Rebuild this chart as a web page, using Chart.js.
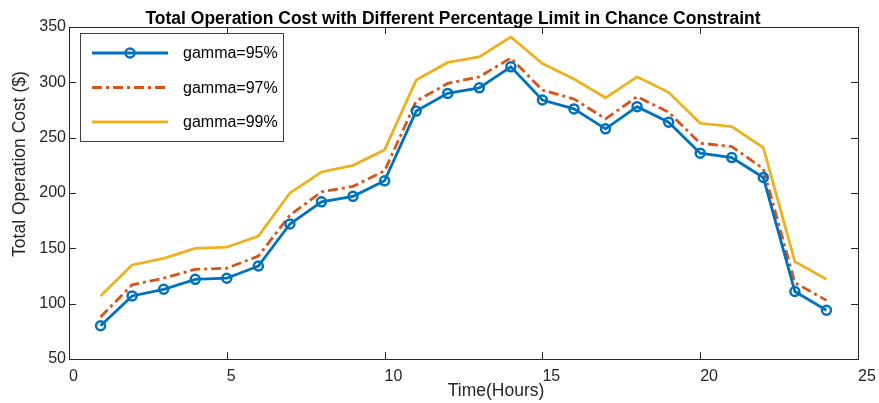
<!DOCTYPE html>
<html>
<head>
<meta charset="utf-8">
<script src="https://cdn.jsdelivr.net/npm/chart.js@4/dist/chart.umd.min.js"></script>
<style>
  html, body { margin: 0; padding: 0; background: #fff; }
  #wrap { width: 879px; height: 403px; }
</style>
</head>
<body>
<div id="wrap"><canvas id="costChart" width="879" height="403"></canvas></div>
<script>
// hours 1..24
const hours = [1, 2, 3, 4, 5, 6, 7, 8, 9, 10, 11, 12, 13, 14, 15, 16, 17, 18, 19, 20, 21, 22, 23, 24];
const gamma95 = [80, 107, 113, 122, 123, 134, 172, 192, 197, 211, 274, 290, 295, 314, 284, 276, 258, 278, 264, 236, 232, 214, 111, 94];
const gamma97 = [88, 117, 123, 131, 132, 143, 180, 201, 206, 220, 283, 299, 305, 322, 293, 285, 267, 287, 273, 245, 242, 222, 119, 103];
const gamma99 = [107, 135, 141, 150, 151, 161, 200, 219, 225, 239, 302, 318, 323, 341, 317, 303, 286, 305, 291, 263, 260, 241, 138, 122];
const xTicks = [0, 5, 10, 15, 20, 25];
const yTicks = [50, 100, 150, 200, 250, 300, 350];

const FONT = 'Arial, "Liberation Sans", sans-serif';

function toPoints(values) {
    return hours.map((h, i) => ({ x: h, y: values[i] }));
}

// matlab-ish frame: box, inward ticks, title, axis labels, legend
const frameBox = {
    id: 'frameBox',
    afterDraw(chart) {
        const ctx = chart.ctx;
        const a = chart.chartArea;
        const xs = chart.scales.x;
        const ys = chart.scales.y;
        ctx.save();
        ctx.strokeStyle = '#262626';
        ctx.lineWidth = 1;
        ctx.strokeRect(a.left + 0.5, a.top + 0.5, a.right - a.left, a.bottom - a.top);
        const tl = 7;
        xTicks.forEach(v => {
            const px = Math.round(xs.getPixelForValue(v)) + 0.5;
            ctx.beginPath();
            ctx.moveTo(px, a.bottom); ctx.lineTo(px, a.bottom - tl);
            ctx.moveTo(px, a.top); ctx.lineTo(px, a.top + tl);
            ctx.stroke();
        });
        yTicks.forEach(v => {
            const py = Math.round(ys.getPixelForValue(v)) + 0.5;
            ctx.beginPath();
            ctx.moveTo(a.left, py); ctx.lineTo(a.left + tl, py);
            ctx.moveTo(a.right, py); ctx.lineTo(a.right - tl, py);
            ctx.stroke();
        });

        // title
        ctx.fillStyle = '#000';
        ctx.font = 'bold 17.5px ' + FONT;
        ctx.textAlign = 'center';
        ctx.textBaseline = 'alphabetic';
        ctx.fillText('Total Operation Cost with Different Percentage Limit in Chance Constraint', 453, 24);

        // axis titles
        ctx.fillStyle = '#262626';
        ctx.font = '17.5px ' + FONT;
        ctx.textBaseline = 'middle';
        ctx.fillText('Time(Hours)', 496, 391);
        ctx.save();
        ctx.translate(20, 164);
        ctx.rotate(-Math.PI / 2);
        ctx.fillText('Total Operation Cost ($)', 0, 0);
        ctx.restore();

        // legend
        const lx = 80, ly = 33, lw = 203, lh = 108;
        ctx.fillStyle = '#fff';
        ctx.fillRect(lx, ly, lw, lh);
        ctx.strokeStyle = '#404040';
        ctx.strokeRect(lx + 0.5, ly + 0.5, lw, lh);
        chart.data.datasets.forEach((ds, i) => {
            const yy = ly + 20 + i * 34.5;
            ctx.save();
            ctx.strokeStyle = ds.borderColor;
            ctx.lineWidth = ds.borderWidth;
            ctx.setLineDash(ds.borderDash || []);
            ctx.beginPath();
            ctx.moveTo(lx + 12, yy); ctx.lineTo(lx + 88, yy);
            ctx.stroke();
            ctx.setLineDash([]);
            if (ds.pointRadius > 0) {
                ctx.lineWidth = ds.pointBorderWidth;
                ctx.beginPath();
                ctx.arc(lx + 50, yy, ds.pointRadius, 0, Math.PI * 2);
                ctx.stroke();
            }
            ctx.restore();
            ctx.fillStyle = '#000';
            ctx.font = '16px ' + FONT;
            ctx.textAlign = 'left';
            ctx.textBaseline = 'middle';
            ctx.fillText(ds.label, lx + 103, yy + 1);
        });
        ctx.restore();
    }
};

const ctx = document.getElementById('costChart').getContext('2d');
new Chart(ctx, {
    type: 'line',
    data: {
        datasets: [
            {
                label: 'gamma=95%',
                data: toPoints(gamma95),
                borderColor: '#0072BD',
                borderWidth: 2.8,
                pointRadius: 4.5,
                pointBorderWidth: 2.5,
                pointBackgroundColor: 'rgba(0,0,0,0)',
                pointBorderColor: '#0072BD',
                tension: 0,
                order: 1
            },
            {
                label: 'gamma=97%',
                data: toPoints(gamma97),
                borderColor: '#D95319',
                borderWidth: 2.8,
                borderDash: [10, 4, 3, 4],
                pointRadius: 0,
                tension: 0,
                order: 2
            },
            {
                label: 'gamma=99%',
                data: toPoints(gamma99),
                borderColor: '#EDB120',
                borderWidth: 2.8,
                pointRadius: 0,
                tension: 0,
                order: 3
            }
        ]
    },
    options: {
        responsive: false,
        animation: false,
        layout: { padding: { top: 27, right: 21, left: 0, bottom: 0 } },
        plugins: {
            legend: { display: false },
            title: { display: false },
            tooltip: { enabled: false }
        },
        scales: {
            x: {
                type: 'linear',
                min: 0,
                max: 25,
                afterFit(scale) {
                    scale.height = 44;
                    scale.paddingLeft = 0;
                    scale.paddingRight = 0;
                },
                afterBuildTicks(scale) { scale.ticks = xTicks.map(v => ({ value: v })); },
                grid: { display: false, drawTicks: false },
                border: { display: false },
                ticks: { color: '#262626', font: { family: FONT, size: 16 }, padding: 8, maxRotation: 0, align: 'start' }
            },
            y: {
                min: 50,
                max: 350,
                afterFit(scale) {
                    scale.width = 69;
                    scale.paddingTop = 0;
                    scale.paddingBottom = 0;
                },
                afterBuildTicks(scale) { scale.ticks = yTicks.map(v => ({ value: v })); },
                grid: { display: false, drawTicks: false },
                border: { display: false },
                ticks: { color: '#262626', font: { family: FONT, size: 16 }, padding: 3 }
            }
        }
    },
    plugins: [frameBox]
});
</script>
</body>
</html>
